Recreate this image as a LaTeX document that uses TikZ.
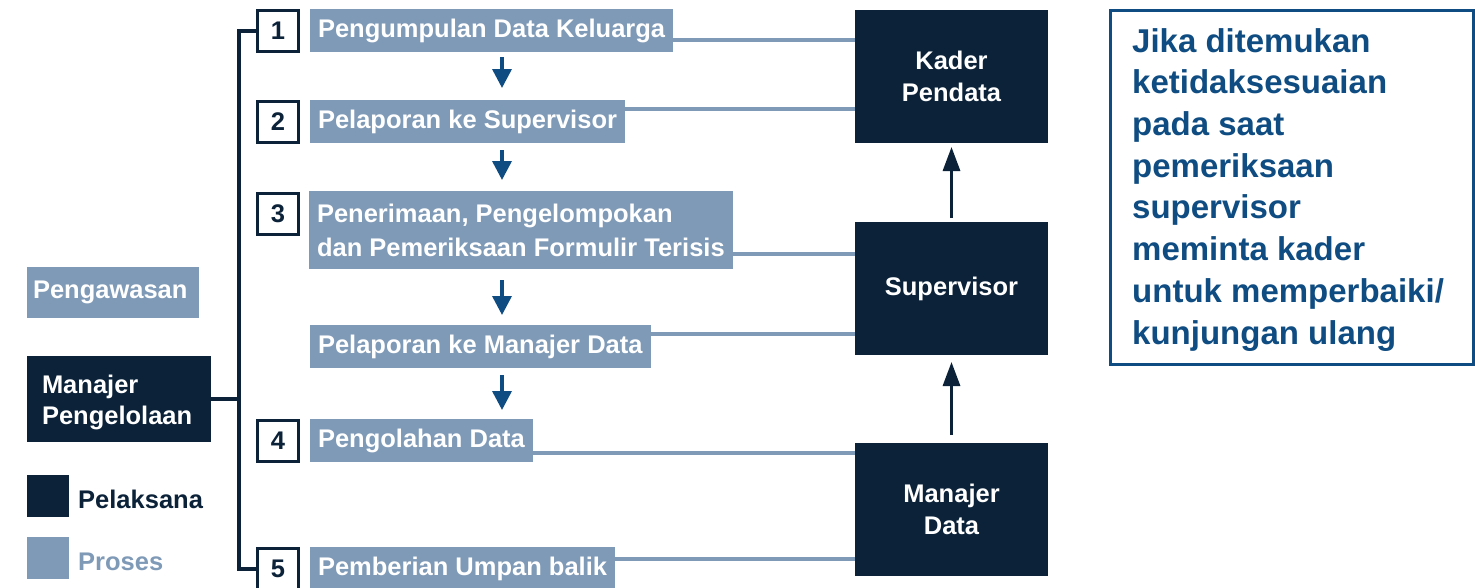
\documentclass[tikz,border=0pt]{standalone}
\usepackage{fontspec}
\setmainfont{Liberation Sans}
\usetikzlibrary{arrows.meta,calc}
\definecolor{navy}{HTML}{0B2239}
\definecolor{procblue}{HTML}{7F9AB7}
\definecolor{noteblue}{HTML}{0F4C81}
\begin{document}
\begin{tikzpicture}[x=1pt,y=-1pt,
  proc/.style={fill=procblue,text=white,font=\bfseries\fontsize{25.5}{34}\selectfont,anchor=north west,inner xsep=8pt,inner ysep=0pt,outer sep=0pt,minimum height=43pt,align=left},
  actor/.style={fill=navy,text=white,font=\bfseries\fontsize{25.5}{32}\selectfont,anchor=north west,minimum width=193pt,minimum height=133pt,inner sep=0pt,outer sep=0pt,align=center},
  numbox/.style={draw=navy,line width=3pt,fill=white,text=navy,font=\bfseries\fontsize{25.5}{30}\selectfont,minimum size=41pt,inner sep=0pt},
  link/.style={draw=procblue,line width=4pt},
  bracket/.style={draw=navy,line width=3.5pt},
  flow/.style={draw=noteblue,line width=3.5pt,-{Triangle[width=19pt,length=19pt]}},
  uparr/.style={draw=navy,line width=3pt,-{Triangle[width=17pt,length=24pt]}}]
\clip (0,0) rectangle (1475,587);
\useasboundingbox (0,0) rectangle (1475,587);

% process boxes
\node[proc] (p1) at (310,9) {Pengumpulan Data Keluarga};
\node[proc] (p2) at (310,100) {Pelaporan ke Supervisor};
\node[proc,minimum height=78pt] (p3) at (309,191) {Penerimaan, Pengelompokan\\dan Pemeriksaan Formulir Terisis};
\node[proc] (p3b) at (310,325) {Pelaporan ke Manajer Data};
\node[proc] (p4) at (310,419) {Pengolahan Data};
\node[proc] (p5) at (310,547) {Pemberian Umpan balik};

% number boxes
\node[numbox] (b1) at (278,31) {1};
\node[numbox] (b2) at (278,122) {2};
\node[numbox] (b3) at (278,214) {3};
\node[numbox] (b4) at (278,441) {4};
\node[numbox] (b5) at (278,569) {5};

% actors
\node[actor] (kader) at (855,10) {Kader\\Pendata};
\node[actor] (sup) at (855,222) {Supervisor};
\node[actor] (md) at (855,443) {Manajer\\Data};

% left side
\node[fill=procblue,text=white,font=\bfseries\fontsize{25.5}{31}\selectfont,anchor=north west,minimum width=172pt,minimum height=51pt,inner xsep=6pt,inner ysep=0pt,text width=160pt,align=left,outer sep=0pt] (peng) at (27,267) {Pengawasan};
\node[fill=navy,text=white,font=\bfseries\fontsize{25.5}{31}\selectfont,anchor=north west,minimum width=184pt,minimum height=86pt,inner xsep=15pt,inner ysep=0pt,text width=154pt,align=left,outer sep=0pt] (mp) at (27,356) {\rule{0pt}{26pt}Manajer\\Pengelolaan};

% legend
\node[fill=navy,anchor=north west,minimum size=42pt,inner sep=0pt] (lg1) at (27,475) {};
\node[fill=procblue,anchor=north west,minimum size=42pt,inner sep=0pt] (lg2) at (27,537) {};
\node[text=navy,font=\bfseries\fontsize{25.5}{31}\selectfont,anchor=base west,inner sep=0pt] (lt1) at (78,508) {Pelaksana};
\node[text=procblue,font=\bfseries\fontsize{25.5}{31}\selectfont,anchor=base west,inner sep=0pt] (lt2) at (78,570) {Proses};

% note
\node[draw=noteblue,line width=2.5pt,anchor=north west,minimum width=363pt,minimum height=354pt,inner sep=0pt] (note) at (1109,9) {};
\node[text=noteblue,font=\bfseries\fontsize{33}{41.7}\selectfont,anchor=north west,inner sep=0pt,align=left] (notetext) at (1132,28) {Jika ditemukan\\ketidaksesuaian\\pada saat\\pemeriksaan\\supervisor\\meminta kader\\untuk memperbaiki/\\kunjungan ulang};

% bracket
\draw[bracket] (b1.west) -- ++(-17,0) coordinate (bt) |- (b5.west);
\draw[bracket] (mp.east) -- (mp.east -| bt);

% links
\draw[link] (p1.east) ++(0,9.5) coordinate (l1) -- (l1 -| kader.west);
\draw[link] (p2.east) ++(0,-12.5) coordinate (l2) -- (l2 -| kader.west);
\draw[link] (p3.east) ++(0,24) coordinate (l3) -- (l3 -| sup.west);
\draw[link] (p3b.east) ++(0,-12.5) coordinate (l4) -- (l4 -| sup.west);
\draw[link] (p4.east) ++(0,12.5) coordinate (l5) -- (l5 -| md.west);
\draw[link] (p5.east) ++(0,-9.5) coordinate (l6) -- (l6 -| md.west);

% flow arrows
\coordinate (ax) at (502,0);
\draw[flow,shorten <=5pt,shorten >=12pt] (p1.south -| ax) -- (p2.north -| ax);
\draw[flow,shorten <=7pt,shorten >=11pt] (p2.south -| ax) -- (p3.north -| ax);
\draw[flow,shorten <=11pt,shorten >=10pt] (p3.south -| ax) -- (p3b.north -| ax);
\draw[flow,shorten <=7pt,shorten >=9pt] (p3b.south -| ax) -- (p4.north -| ax);

% up arrows
\draw[uparr,shorten <=4pt,shorten >=4pt] (sup.north) -- (kader.south);
\draw[uparr,shorten <=8pt,shorten >=7pt] (md.north) -- (sup.south);
\end{tikzpicture}
\end{document}
